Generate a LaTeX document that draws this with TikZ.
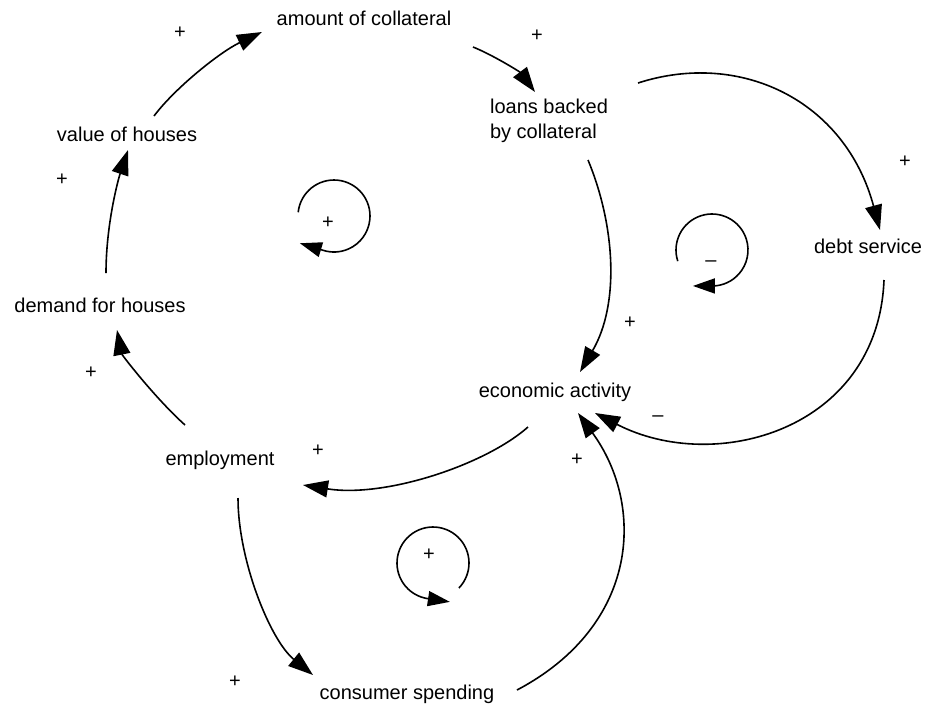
\documentclass[tikz,border=0pt]{standalone}
\usepackage{fontspec}
\setmainfont{Liberation Sans}
\usetikzlibrary{arrows.meta}
\begin{document}
\begin{tikzpicture}[x=1pt,y=-1pt,
  lbl/.style={font=\fontsize{20}{25}\selectfont, inner sep=0pt, text height=14pt, text depth=0pt},
  mlbl/.style={font=\fontsize{20}{25}\selectfont, inner sep=0pt, align=left},
  sgn/.style={font=\fontsize{20}{24}\selectfont, inner sep=0pt},
  conn/.style={line width=1.6pt, -{Triangle[length=25pt,width=17pt]}},
  loopc/.style={line width=1.6pt, -{Triangle[length=22pt,width=15pt]}},
  ]
\useasboundingbox[fill=white] (0,0) rectangle (926,705);

% variables
\node[lbl]  (ac) at (364,18)  {amount of collateral};
\node[mlbl] (lb) at (549,121) {loans backed\\by collateral};
\node[lbl]  (ds) at (868,246) {debt service};
\node[lbl]  (vh) at (127,134) {value of houses};
\node[lbl]  (dh) at (100,305) {demand for houses};
\node[lbl]  (ea) at (555,390) {economic activity};
\node[lbl]  (em) at (220,458) {employment};
\node[lbl]  (cs) at (407,692) {consumer spending};

% causal links
\draw[conn] ([shift={(27,-18)}]vh.center) .. controls +(21,-28) and +(-42,20) .. ([shift={(-102,14)}]ac.center);
\draw[conn] ([shift={(109,29)}]ac.center) .. controls +(20,8) and +(-15,-20) .. ([shift={(-14,-29)}]lb.center);
\draw[conn] ([shift={(89,-38)}]lb.center) .. controls +(102,-33) and +(-35,-130) .. ([shift={(12,-16)}]ds.center);
\draw[conn] ([shift={(39,39)}]lb.center) .. controls +(27,65) and +(40,-68) .. ([shift={(25,-18)}]ea.center);
\draw[conn] ([shift={(16,34)}]ds.center) .. controls +(-6,150) and +(120,62) .. ([shift={(40,23)}]ea.center);
\draw[conn] ([shift={(110,-2)}]cs.center) .. controls +(123,-65) and +(67,92) .. ([shift={(23,23)}]ea.center);
\draw[conn] ([shift={(-27,37)}]ea.center) .. controls +(-43,38) and +(82,13) .. ([shift={(83,27)}]em.center);
\draw[conn] ([shift={(18,40)}]em.center) .. controls +(0,62) and +(-43,-35) .. ([shift={(-94,-17)}]cs.center);
\draw[conn] ([shift={(-35,-33)}]em.center) .. controls +(-30,-27) and +(5,25) .. ([shift={(17,25)}]dh.center);
\draw[conn] ([shift={(6,-32)}]dh.center) .. controls +(0,-48) and +(-10,30) .. ([shift={(1,16)}]vh.center);

% link polarities
\node[sgn] (p1) at (180,33) {+};
\node[sgn] (p2) at (537,36) {+};
\node[sgn] (p3) at (62,180) {+};
\node[sgn] (p4) at (905,162) {+};
\node[sgn] (p5) at (91,373) {+};
\node[sgn] (p6) at (630,323) {+};
\node[sgn] (p7) at (318,451) {+};
\node[sgn] (p8) at (577,460) {+};
\node[sgn] (p9) at (235,682) {+};
\node[sgn] (m1) at (658,419) {–};

% loop markers
\coordinate (L1) at (334,216);
\coordinate (L2) at (712,250);
\coordinate (L3) at (433,563);
\draw[loopc] ([shift={(174:36pt)}]L1) arc[start angle=174, end angle=-108, radius=36pt] -- ++(-23,-7);
\draw[loopc] ([shift={(198:36pt)}]L2) arc[start angle=198, end angle=-87, radius=36pt] -- ++(-21,0);
\draw[loopc] ([shift={(-44:36pt)}]L3) arc[start angle=-44, end angle=265, radius=36pt] -- ++(20,3);
\node[sgn] (r1) at (328,223) {+};
\node[sgn] (b1) at (711,264) {–};
\node[sgn] (r2) at (429,555) {+};
\end{tikzpicture}
\end{document}
